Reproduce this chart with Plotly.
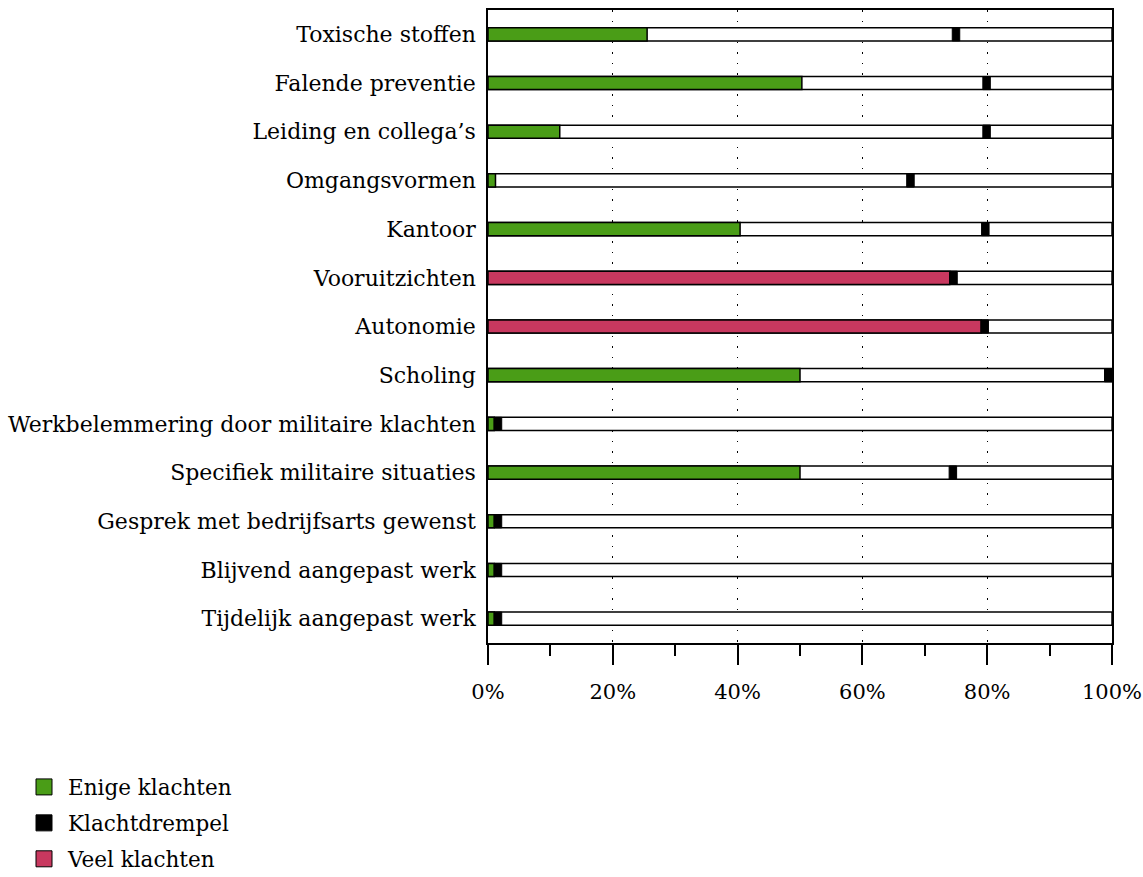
import plotly.graph_objects as go

categories = [
    "Toxische stoffen", "Falende preventie", "Leiding en collega\u2019s", "Omgangsvormen",
    "Kantoor", "Vooruitzichten", "Autonomie", "Scholing",
    "Werkbelemmering door militaire klachten", "Specifiek militaire situaties",
    "Gesprek met bedrijfsarts gewenst", "Blijvend aangepast werk", "Tijdelijk aangepast werk",
]
enige_klachten = [25.5, 50.3, 11.5, 1.2, 40.4, None, None, 50.0, 1.0, 50.0, 1.0, 1.0, 1.0]
veel_klachten = [None, None, None, None, None, 74.0, 79.0, None, None, None, None, None, None]
klachtdrempel = [75.0, 79.9, 79.9, 67.7, 79.7, 74.6, 79.6, 99.4, 1.6, 74.5, 1.6, 1.6, 1.6]
totaal = [100] * len(categories)
tick_vals = [0, 20, 40, 60, 80, 100]
tick_text = ["0%", "20%", "40%", "60%", "80%", "100%"]
legend_names = ["Enige klachten", "Klachtdrempel", "Veel klachten"]

GREEN = "#4a9d17"
RED = "#c8385f"
legend_colors = [GREEN, "black", RED]
MARK_W = 1.2
BAR_W = 0.27
LINE = dict(color="black", width=1.5)
FONT = "DejaVu Serif"

fig = go.Figure()
fig.add_trace(go.Bar(y=categories, x=totaal, orientation="h", width=BAR_W,
                     marker=dict(color="white", line=LINE), showlegend=False,
                     hoverinfo="skip"))
fig.add_trace(go.Bar(y=categories, x=enige_klachten, orientation="h", width=BAR_W,
                     name=legend_names[0], showlegend=False,
                     marker=dict(color=GREEN, line=LINE)))
fig.add_trace(go.Bar(y=categories, x=[MARK_W] * len(categories),
                     base=[t - MARK_W / 2 for t in klachtdrempel], orientation="h",
                     width=BAR_W, name=legend_names[1], showlegend=False,
                     marker=dict(color="black", line=dict(color="black", width=1))))
fig.add_trace(go.Bar(y=categories, x=veel_klachten, orientation="h", width=BAR_W,
                     name=legend_names[2], showlegend=False,
                     marker=dict(color=RED, line=LINE)))

# legend entries with larger square swatches
for i, (nm, col) in enumerate(zip(legend_names, legend_colors)):
    fig.add_trace(go.Scatter(x=[None], y=[None], mode="markers", name=nm,
                             legendgroup=f"g{i}",
                             marker=dict(symbol="square", size=16, color=col,
                                         line=dict(color="black", width=1))))

fig.update_layout(
    width=1143, height=877,
    margin=dict(l=488, r=31, t=10, b=234, autoexpand=False),
    barmode="overlay",
    plot_bgcolor="white", paper_bgcolor="white",
    font=dict(family=FONT, size=21, color="black"),
    showlegend=True,
    legend=dict(x=-0.750, y=-0.195, xanchor="left", yanchor="top",
                font=dict(family=FONT, size=21.5), traceorder="grouped",
                tracegroupgap=5, itemsizing="trace", itemwidth=38,
                bgcolor="rgba(0,0,0,0)"),
    xaxis=dict(range=[0, 100], tickvals=tick_vals, ticktext=tick_text,
               ticks="outside", ticklen=20, tickwidth=1.5, tickcolor="black",
               ticklabelstandoff=9, ticklabeloverflow="allow",
               minor=dict(dtick=10, tick0=0, ticks="outside", ticklen=11,
                          tickwidth=1.5, tickcolor="black", showgrid=False),
               showline=True, linecolor="black", linewidth=1.5, mirror=True,
               showgrid=True, gridcolor="black", gridwidth=1.2, griddash="1.5px,9px",
               zeroline=False, tickfont=dict(family=FONT, size=21)),
    yaxis=dict(autorange="reversed", showline=True, linecolor="black", linewidth=1.5,
               mirror=True, ticks="", showgrid=False, ticklabelstandoff=6,
               tickfont=dict(family=FONT, size=22)),
)

fig.write_html("out.html", config={"displayModeBar": False},
               post_script="document.body.style.margin='0';document.body.style.overflow='hidden';")
